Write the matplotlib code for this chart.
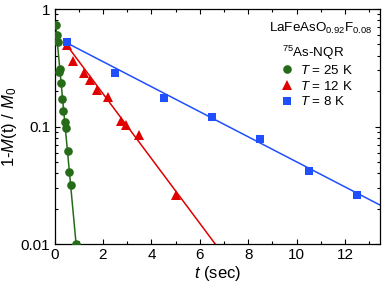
"""Spin-lattice relaxation recovery curves for LaFeAsO0.92F0.08 (75As-NQR)."""
import matplotlib
matplotlib.use("Agg")
import matplotlib.pyplot as plt
import numpy as np
from matplotlib.ticker import FixedLocator, MultipleLocator, NullFormatter

plt.rcParams["font.family"] = ["Liberation Sans", "DejaVu Sans"]
plt.rcParams["mathtext.fontset"] = "custom"
plt.rcParams["mathtext.rm"] = "Liberation Sans"
plt.rcParams["mathtext.it"] = "Liberation Sans:italic"

# T = 25 K
t_25 = [0.05, 0.09, 0.13, 0.20, 0.23, 0.27, 0.32, 0.36, 0.43, 0.48, 0.55, 0.61, 0.67, 0.89]
m_25 = [0.73, 0.60, 0.52, 0.29, 0.31, 0.236, 0.170, 0.136, 0.110, 0.098, 0.062, 0.041, 0.032, 0.010]
# T = 12 K
t_12 = [0.5, 0.78, 1.22, 1.47, 1.74, 2.22, 2.74, 2.95, 3.5, 5.0]
m_12 = [0.49, 0.363, 0.284, 0.249, 0.205, 0.179, 0.111, 0.103, 0.085, 0.026]
# T = 8 K
t_8 = [0.5, 2.5, 4.5, 6.5, 8.5, 10.5, 12.5]
m_8 = [0.52, 0.284, 0.176, 0.121, 0.079, 0.042, 0.026]

# single-exponential fits: amplitude, T1 (sec), time range of the drawn line
fit_25 = (0.944, 0.196, 0.05, 0.90)
fit_12 = (0.679, 1.573, 0.40, 6.70)
fit_8 = (0.583, 4.07, 0.50, 13.5)

series = [
    ("$T$ = 25 K", t_25, m_25, fit_25, "#266b17", "o", 6.2),
    ("$T$ = 12 K", t_12, m_12, fit_12, "#e00000", "^", 7.4),
    ("$T$ = 8 K", t_8, m_8, fit_8, "#1f4fff", "s", 5.6),
]

fig = plt.figure(figsize=(3.82, 2.91), dpi=100)
ax = fig.add_axes([0.1427, 0.1615, 0.8528, 0.8075])

for label, t, m, fit, color, marker, ms in series:
    amp, t1, t0, t_end = fit
    tt = np.linspace(t0, t_end, 200)
    ax.plot(tt, amp * np.exp(-tt / t1), color=color, lw=1.1, zorder=2)
    ax.plot(t, m, ls="none", marker=marker, ms=ms, color=color,
            markeredgewidth=0, label=label, zorder=3)

ax.set_yscale("log")
ax.set_xlim(0, 13.45)
ax.set_ylim(0.01, 1)
ax.xaxis.set_major_locator(MultipleLocator(2))
ax.xaxis.set_minor_locator(MultipleLocator(1))
ax.yaxis.set_major_locator(FixedLocator([0.01, 0.1, 1]))
ax.set_yticklabels(["0.01", "0.1", "1"])
ax.yaxis.set_minor_formatter(NullFormatter())
ax.tick_params(which="both", direction="in", top=True, right=True,
               labelsize=11, width=0.8, pad=3)
ax.tick_params(which="major", length=3.5)
ax.tick_params(which="minor", length=2)
for sp in ax.spines.values():
    sp.set_linewidth(0.9)

ax.set_xlabel("$t$ (sec)", fontsize=12, labelpad=1)
ax.set_ylabel("1-$M$(t) / $M_0$", fontsize=12, labelpad=1)

ax.text(0.659, 0.918, r"LaFeAsO$_{0.92}$F$_{0.08}$", transform=ax.transAxes,
        fontsize=9.6, ha="left", va="center")
ax.text(0.697, 0.815, r"$^{75}$As-NQR", transform=ax.transAxes,
        fontsize=9.6, ha="left", va="center")
ax.legend(loc="upper left", bbox_to_anchor=(0.697, 0.766), frameon=False,
          fontsize=9.6, handlelength=0.8, handletextpad=0.6, labelspacing=0.2,
          borderpad=0, borderaxespad=0)

fig.savefig("out.png", dpi=100)
